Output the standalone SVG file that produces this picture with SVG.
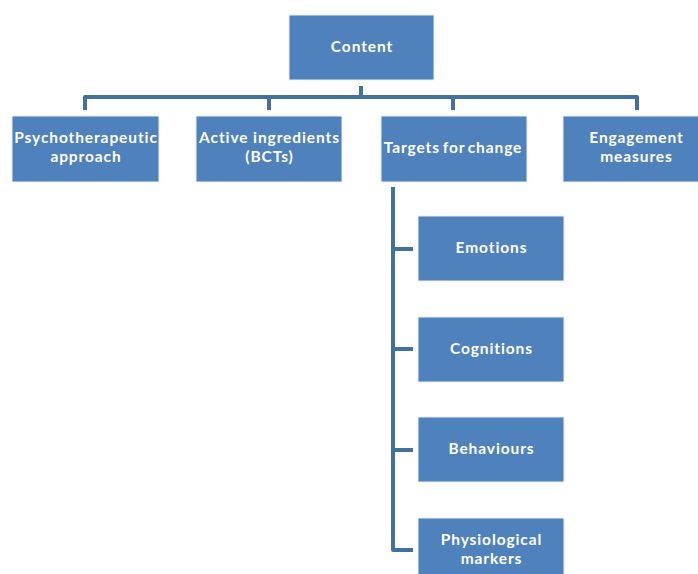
<svg xmlns="http://www.w3.org/2000/svg" width="698" height="574" viewBox="0 0 698 574">
  <style>
    .box { fill: #4F81BD; stroke: #E8EEF7; stroke-width: 1; }
    .lbl { fill: #FFFFFF; font-family: Lato, "Liberation Sans", sans-serif; font-weight: bold; font-size: 15.5px; letter-spacing: 0.9px; text-anchor: middle; }
    .tight { word-spacing: -2px; }
    .conn { fill: none; stroke: #41719C; stroke-width: 4; stroke-linejoin: round; stroke-linecap: butt; }
  </style>
  <rect width="698" height="574" fill="#FFFFFF"/>

  <g id="connectors">
    <path class="conn" d="M361 86 V97"/>
    <path class="conn" d="M85 110 V97 H637 V110"/>
    <path class="conn" d="M269 97 V110"/>
    <path class="conn" d="M453 97 V110"/>
    <path class="conn" d="M393 187 V550 H413"/>
    <path class="conn" d="M393 249 H413"/>
    <path class="conn" d="M393 349 H413"/>
    <path class="conn" d="M393 450 H413"/>
  </g>

  <g id="content">
    <rect class="box" x="289" y="15" width="145" height="65"/>
    <text class="lbl" x="362" y="52">Content</text>
  </g>

  <g id="psychotherapeutic-approach">
    <rect class="box" x="12" y="116" width="147" height="66"/>
    <text class="lbl" x="86" y="143">Psychotherapeutic</text>
    <text class="lbl" x="86" y="162">approach</text>
  </g>

  <g id="active-ingredients">
    <rect class="box" x="196" y="116" width="146" height="66"/>
    <text class="lbl" x="269.5" y="143">Active ingredients</text>
    <text class="lbl" x="269.5" y="162">(BCTs)</text>
  </g>

  <g id="targets-for-change">
    <rect class="box" x="381" y="116" width="146" height="66"/>
    <text class="lbl tight" x="453" y="153">Targets for change</text>
  </g>

  <g id="engagement-measures">
    <rect class="box" x="563" y="116" width="140" height="66"/>
    <text class="lbl" x="636.5" y="143">Engagement</text>
    <text class="lbl" x="636.5" y="162">measures</text>
  </g>

  <g id="emotions">
    <rect class="box" x="418" y="216" width="146" height="65"/>
    <text class="lbl" x="491.5" y="253">Emotions</text>
  </g>

  <g id="cognitions">
    <rect class="box" x="418" y="317" width="146" height="65"/>
    <text class="lbl" x="491.5" y="354">Cognitions</text>
  </g>

  <g id="behaviours">
    <rect class="box" x="418" y="417" width="146" height="65"/>
    <text class="lbl" x="491.5" y="454">Behaviours</text>
  </g>

  <g id="physiological-markers">
    <rect class="box" x="418" y="518" width="146" height="62"/>
    <text class="lbl" x="491.5" y="545">Physiological</text>
    <text class="lbl" x="491.5" y="564">markers</text>
  </g>
</svg>
